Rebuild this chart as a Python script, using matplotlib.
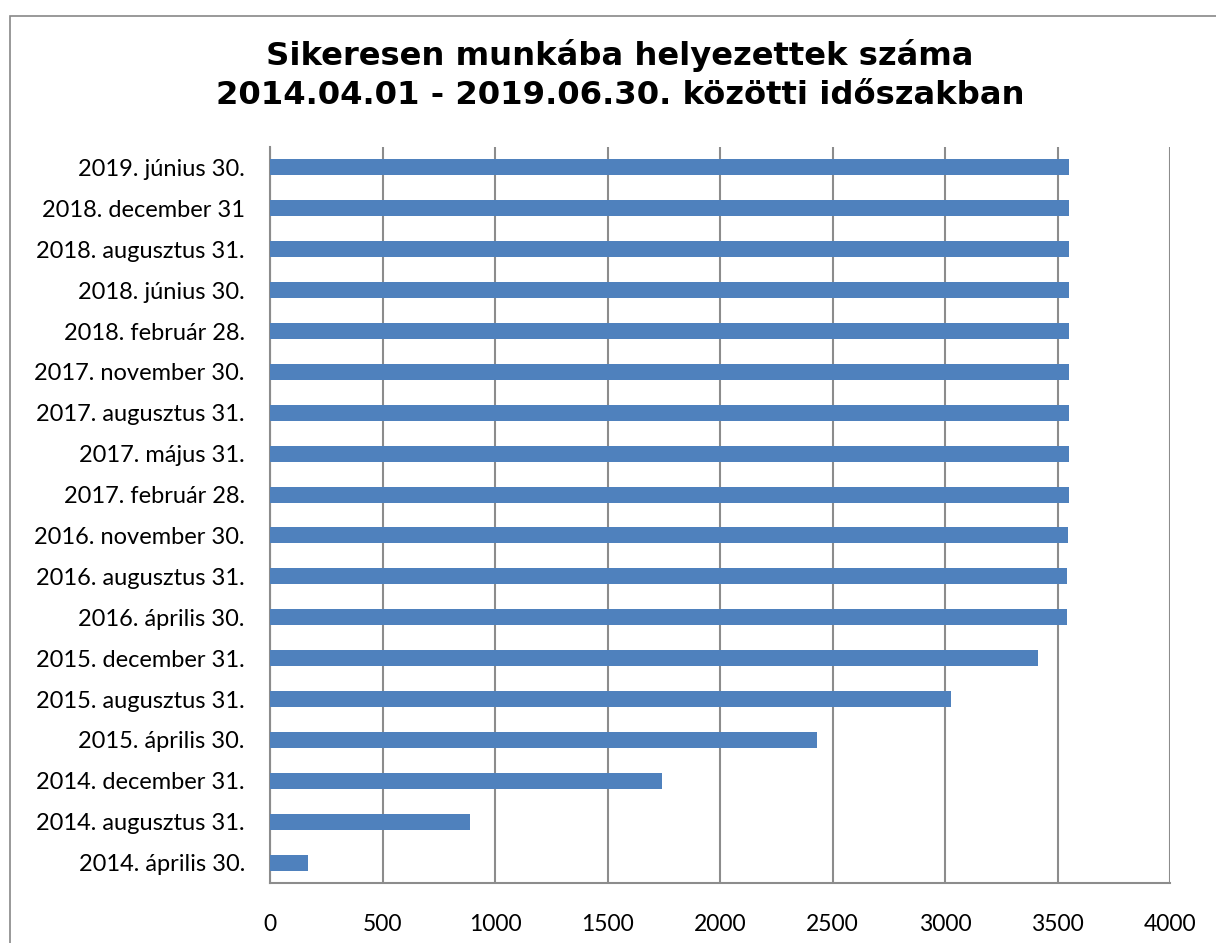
import matplotlib.pyplot as plt
from matplotlib.patches import Rectangle

# categories, bottom to top
datumok = [
    "2014. április 30.", "2014. augusztus 31.", "2014. december 31.",
    "2015. április 30.", "2015. augusztus 31.", "2015. december 31.",
    "2016. április 30.", "2016. augusztus 31.", "2016. november 30.",
    "2017. február 28.", "2017. május 31.", "2017. augusztus 31.",
    "2017. november 30.", "2018. február 28.", "2018. június 30.",
    "2018. augusztus 31.", "2018. december 31", "2019. június 30.",
]
letszam = [170, 887, 1744, 2430, 3027, 3412, 3540, 3543, 3547,
           3549, 3549, 3549, 3551, 3551, 3551, 3551, 3551, 3551]
xticks = [0, 500, 1000, 1500, 2000, 2500, 3000, 3500, 4000]

W, H = 1216, 943
fig = plt.figure(figsize=(W / 100, H / 100), dpi=100)
fig.patches.append(Rectangle((10 / W, -0.05), 1.0, 1.05 - 16 / H, transform=fig.transFigure,
                             fill=False, edgecolor="#888888", linewidth=1.2))

ax = fig.add_axes([270 / W, 1 - 883 / H, 900 / W, 736 / H])
ax.barh(range(len(datumok)), letszam, height=0.39, color="#4F81BD", zorder=3)
ax.set_xlim(0, 4000)
ax.set_ylim(-0.5, len(datumok) - 0.5)
ax.set_xticks(xticks)
ax.set_yticks(range(len(datumok)))
ax.set_yticklabels(datumok)
ax.grid(axis="x", color="#8c8c8c", linewidth=1.5, zorder=0)

for s in ["top", "right"]:
    ax.spines[s].set_visible(False)
for s in ["left", "bottom"]:
    ax.spines[s].set_color("#8c8c8c")
    ax.spines[s].set_linewidth(1.5)
ax.tick_params(axis="y", length=0, pad=18)
ax.tick_params(axis="x", length=0, pad=22)
for lbl in ax.get_yticklabels():
    lbl.set_fontfamily("Lato")
    lbl.set_fontsize(17)
for lbl in ax.get_xticklabels():
    lbl.set_fontfamily("Lato")
    lbl.set_fontsize(16.5)

fig.text(620 / W, 1 - 75 / H,
         "Sikeresen munkába helyezettek száma\n2014.04.01 - 2019.06.30. közötti időszakban",
         ha="center", va="center", fontsize=23.2, fontweight="bold",
         family="DejaVu Sans", linespacing=1.35)

fig.savefig("out.png", dpi=100)
